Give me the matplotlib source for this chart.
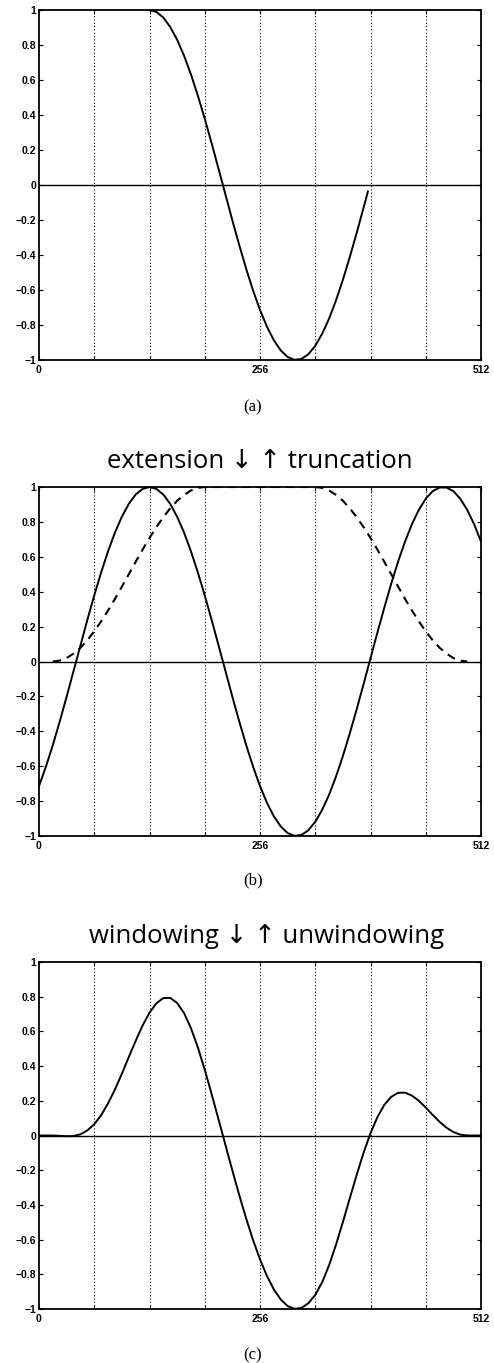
import numpy as np
import matplotlib
matplotlib.use("Agg")
import matplotlib.pyplot as plt

# sample positions (every 8th sample of a 512-point frame)
n_full = np.arange(0, 513, 8)

# (a) truncated cosine segment
n_trunc = list(range(128, 377, 8)) + [381]
sig_trunc = [1.000, 0.989, 0.957, 0.903, 0.830, 0.739, 0.632, 0.511, 0.379, 0.238,
             0.092, -0.055, -0.202, -0.344, -0.479, -0.603, -0.714, -0.809, -0.887,
             -0.945, -0.983, -0.999, -0.994, -0.967, -0.919, -0.850, -0.764, -0.660,
             -0.542, -0.412, -0.274, -0.129, -0.037]

# (b) periodically extended signal
sig_ext = [-0.714, -0.603, -0.479, -0.344, -0.202, -0.055, 0.092, 0.238, 0.379, 0.511,
           0.632, 0.739, 0.830, 0.903, 0.957, 0.989, 1.000, 0.989, 0.957, 0.903,
           0.830, 0.739, 0.632, 0.511, 0.379, 0.238, 0.092, -0.055, -0.202, -0.344,
           -0.479, -0.603, -0.714, -0.809, -0.887, -0.945, -0.983, -0.999, -0.994,
           -0.967, -0.919, -0.850, -0.764, -0.660, -0.542, -0.412, -0.274, -0.129,
           0.019, 0.166, 0.309, 0.446, 0.573, 0.687, 0.787, 0.869, 0.933, 0.976,
           0.997, 0.997, 0.976, 0.933, 0.869, 0.787, 0.687]

# (b) analysis window (dashed)
n_win = np.arange(16, 497, 8)
window = [0.000, 0.005, 0.020, 0.045, 0.079, 0.122, 0.173, 0.230, 0.292, 0.359,
          0.429, 0.500, 0.571, 0.641, 0.708, 0.770, 0.827, 0.878, 0.921, 0.955,
          0.980, 0.995] + [1.000] * 17 + \
         [0.995, 0.980, 0.955, 0.921, 0.878, 0.827, 0.770, 0.708, 0.641, 0.571,
          0.500, 0.429, 0.359, 0.292, 0.230, 0.173, 0.122, 0.079, 0.045, 0.020,
          0.005, 0.000]

# (c) windowed signal
sig_win = [0.000, 0.000, 0.000, -0.002, -0.004, -0.003, 0.007, 0.029, 0.065, 0.117,
           0.185, 0.265, 0.356, 0.452, 0.546, 0.634, 0.708, 0.762, 0.792, 0.793,
           0.764, 0.706, 0.619, 0.508, 0.379, 0.238, 0.092, -0.055, -0.202, -0.344,
           -0.479, -0.603, -0.714, -0.809, -0.887, -0.945, -0.983, -0.999, -0.994,
           -0.967, -0.919, -0.846, -0.748, -0.630, -0.499, -0.362, -0.227, -0.099,
           0.013, 0.106, 0.177, 0.223, 0.246, 0.247, 0.230, 0.200, 0.161, 0.119,
           0.079, 0.045, 0.020, 0.005, 0.000, 0.000, 0.000]

x_ticks = [0, 64, 128, 192, 256, 320, 384, 448, 512]
x_labels = ["0", "", "", "", "256", "", "", "", "512"]
y_ticks = [-1, -0.8, -0.6, -0.4, -0.2, 0, 0.2, 0.4, 0.6, 0.8, 1]
y_labels = ["\u22121", "\u22120.8", "\u22120.6", "\u22120.4", "\u22120.2", "0",
            "0.2", "0.4", "0.6", "0.8", "1"]

W, H = 494, 1363
fig = plt.figure(figsize=(W / 100, H / 100), dpi=100)


def make_axes(top_px, bottom_px):
    left, right = 39, 481
    ax = fig.add_axes([left / W, 1 - bottom_px / H, (right - left) / W,
                       (bottom_px - top_px) / H])
    ax.set_xlim(0, 512)
    ax.set_ylim(-1, 1)
    ax.set_xticks(x_ticks)
    ax.set_xticklabels(x_labels)
    ax.set_yticks(y_ticks)
    ax.set_yticklabels(y_labels)
    ax.tick_params(direction="in", length=3, width=0.8, top=True, right=True,
                   labelsize=7.5)
    ax.tick_params(axis="y", pad=2)
    ax.tick_params(axis="x", pad=3.5)
    for lab in ax.get_xticklabels() + ax.get_yticklabels():
        lab.set_fontweight("bold")
        lab.set_family("Liberation Sans")
    for sp in ax.spines.values():
        sp.set_linewidth(1.3)
    for xv in x_ticks[1:-1]:
        ax.axvline(xv, color="k", lw=0.8, ls=(0, (1, 2)), zorder=1)
    ax.axhline(0, color="k", lw=1.0, zorder=2)
    return ax


ax_a = make_axes(10, 360)
ax_a.plot(n_trunc, sig_trunc, color="k", lw=1.4, zorder=3)

ax_b = make_axes(487, 836)
ax_b.plot(n_full, sig_ext, color="k", lw=1.4, zorder=3)
ax_b.plot(n_win, window, color="k", lw=1.5, ls=(0, (4, 3)), zorder=3)

ax_c = make_axes(962, 1309)
ax_c.plot(n_full, sig_win, color="k", lw=1.4, zorder=3)

title_font = ["Open Sans", "DejaVu Sans"]
fig.text(260 / W, 1 - 468 / H, "extension \u2193 \u2191 truncation", ha="center",
         va="baseline", fontsize=18.5, family=title_font)
fig.text(267 / W, 1 - 943 / H, "windowing \u2193 \u2191 unwindowing", ha="center",
         va="baseline", fontsize=18.5, family=title_font)

for label, y_px in [("(a)", 407), ("(b)", 880), ("(c)", 1355)]:
    fig.text(253 / W, 1 - y_px / H, label, ha="center", va="center",
             fontsize=12, family="Liberation Serif")

fig.savefig("out.png", dpi=100)
